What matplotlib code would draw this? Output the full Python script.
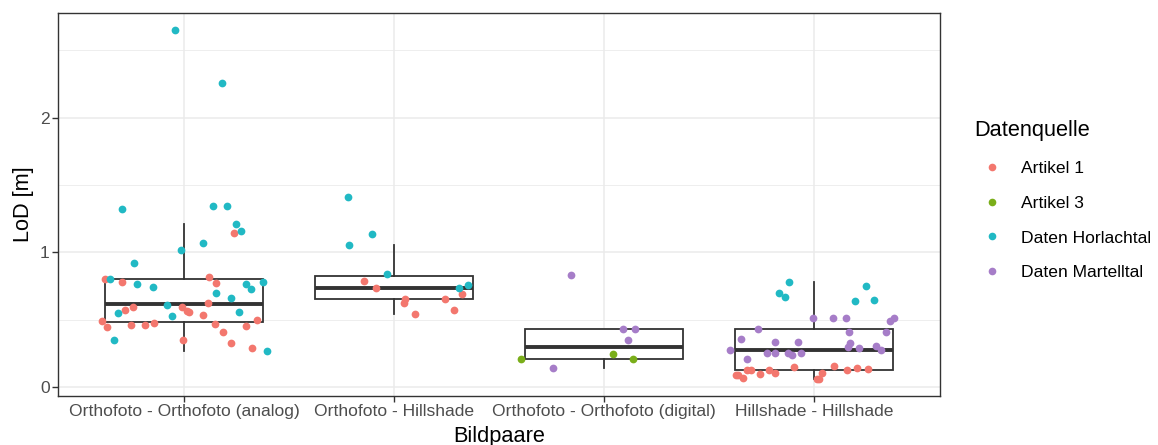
import matplotlib
matplotlib.use("Agg")
import matplotlib.pyplot as plt
from matplotlib.lines import Line2D
import numpy as np

plt.rcParams['font.family'] = ['Liberation Sans', 'DejaVu Sans']

categories = ["Orthofoto - Orthofoto (analog)", "Orthofoto - Hillshade",
              "Orthofoto - Orthofoto (digital)", "Hillshade - Hillshade"]
sources = ["Artikel 1", "Artikel 3", "Daten Horlachtal", "Daten Martelltal"]
colors = ["#F3776E", "#7AAE1A", "#21B9C4", "#A67DC8"]

# Artikel 1
a1_cat = [0]*24 + [1]*8 + [3]*16
a1_lod = [1.141, 0.80, 0.781, 0.818, 0.770, 0.627, 0.593, 0.576, 0.596, 0.563, 0.556, 0.533,
          0.492, 0.444, 0.462, 0.46, 0.474, 0.499, 0.467, 0.455, 0.41, 0.331, 0.348, 0.294,
          0.79, 0.733, 0.655, 0.627, 0.546, 0.655, 0.576, 0.692,
          0.094, 0.087, 0.07, 0.126, 0.128, 0.098, 0.128, 0.104, 0.153, 0.064, 0.064, 0.104,
          0.158, 0.128, 0.141, 0.136]
a1_jit = [0.239, -0.377, -0.297, 0.12, 0.152, 0.112, -0.241, -0.283, -0.008, 0.014, 0.023, 0.09,
          -0.392, -0.369, -0.251, -0.188, -0.145, 0.347, 0.149, 0.297, 0.185, 0.225, -0.005, 0.325,
          -0.143, -0.087, 0.054, 0.048, 0.098, 0.241, 0.286, 0.324,
          -0.36, -0.37, -0.339, -0.32, -0.301, -0.256, -0.212, -0.185, -0.094, 0.013, 0.026, 0.037,
          0.096, 0.158, 0.204, 0.258]

# Artikel 3
a3_cat = [2, 2, 2]
a3_lod = [0.21, 0.249, 0.212]
a3_jit = [-0.394, 0.044, 0.138]

# Daten Horlachtal
dh_cat = [0]*24 + [1]*6 + [3]*6
dh_lod = [2.647, 2.255, 1.324, 1.341, 1.341, 1.21, 1.156, 1.067, 1.018, 0.921, 0.80, 0.763,
          0.744, 0.763, 0.729, 0.783, 0.702, 0.66, 0.613, 0.548, 0.526, 0.556, 0.348, 0.267,
          1.41, 1.136, 1.052, 0.837, 0.736, 0.756,
          0.778, 0.699, 0.669, 0.751, 0.64, 0.647]
dh_jit = [-0.041, 0.18, -0.297, 0.136, 0.204, 0.247, 0.27, 0.092, -0.016, -0.24, -0.351, -0.222,
          -0.148, 0.293, 0.32, 0.377, 0.154, 0.223, -0.081, -0.315, -0.058, 0.261, -0.335, 0.393,
          -0.219, -0.103, -0.214, -0.033, 0.311, 0.351,
          -0.12, -0.168, -0.14, 0.247, 0.193, 0.287]

# Daten Martelltal
dm_cat = [2]*5 + [3]*23
dm_lod = [0.83, 0.43, 0.43, 0.348, 0.141,
          0.511, 0.511, 0.511, 0.494, 0.511, 0.435, 0.412, 0.412, 0.36, 0.338, 0.338, 0.326,
          0.299, 0.291, 0.304, 0.274, 0.274, 0.255, 0.255, 0.255, 0.242, 0.255, 0.207]
dm_jit = [-0.156, 0.089, 0.148, 0.116, -0.241,
          -0.004, 0.09, 0.151, 0.36, 0.38, -0.269, 0.168, 0.344, -0.349, -0.188, -0.075, 0.173,
          0.164, 0.212, 0.293, 0.318, -0.399, -0.223, -0.188, -0.125, -0.104, -0.06, -0.318]

series = [(a1_cat, a1_lod, a1_jit), (a3_cat, a3_lod, a3_jit),
          (dh_cat, dh_lod, dh_jit), (dm_cat, dm_lod, dm_jit)]

fig = plt.figure(figsize=(11.58, 4.45), dpi=100)
ax = fig.add_axes([58/1158, 49/445, 882/1158, 383/445])

# group values per category for boxplots
groups = [[] for _ in categories]
for cats, vals, _ in series:
    for c, v in zip(cats, vals):
        groups[c].append(v)

dark = "#333333"
grid_c = "#EBEBEB"
ax.set_axisbelow(True)
bp = ax.boxplot(groups, positions=np.arange(1, 5), widths=0.75, showfliers=False,
                patch_artist=True, whis=1.5, zorder=2,
                boxprops=dict(facecolor="white", edgecolor=dark, linewidth=1.3),
                whiskerprops=dict(color=dark, linewidth=1.3),
                capprops=dict(linewidth=0),
                medianprops=dict(color=dark, linewidth=2.8, solid_capstyle="butt"))

for (cats, vals, jit), col in zip(series, colors):
    xs = np.array(cats) + 1 + np.array(jit)
    ax.scatter(xs, vals, s=31, color=col, linewidths=0, zorder=3)

ax.set_xlim(0.4, 4.6)
allv = [v for g in groups for v in g]
rng = max(allv) - min(allv)
ax.set_ylim(min(allv) - 0.05*rng, max(allv) + 0.05*rng)

ax.set_xticks(np.arange(1, 5))
ax.set_xticklabels(categories)
ax.set_yticks([0, 1, 2])
ax.set_yticks([0.5, 1.5, 2.5], minor=True)
ax.tick_params(axis='both', which='major', colors=dark, length=4, width=1.0,
               labelsize=12.6, labelcolor="#4D4D4D", pad=2)
ax.tick_params(axis='y', which='minor', length=0)
ax.grid(True, which='major', color=grid_c, linewidth=1.1)
ax.grid(True, which='minor', axis='y', color=grid_c, linewidth=0.6)
for sp in ax.spines.values():
    sp.set_color(dark)
    sp.set_linewidth(1.0)

ax.set_xlabel("Bildpaare", fontsize=15.7, color="black", labelpad=5)
ax.set_ylabel("LoD [m]", fontsize=15.7, color="black", labelpad=4)

handles = [Line2D([], [], marker='o', linestyle='none', markersize=5.5, color=c,
                  markeredgewidth=0) for c in colors]
leg = fig.legend(handles, sources, loc='upper left', bbox_to_anchor=(974/1158, 1 - 120/445),
                 frameon=False, title="Datenquelle", title_fontsize=15.7, fontsize=12.6,
                 handlelength=2.1, handletextpad=0.6, labelspacing=1.12, alignment='left',
                 borderaxespad=0, borderpad=0)
leg.get_title().set_color("black")

fig.savefig("out.png", dpi=100)
